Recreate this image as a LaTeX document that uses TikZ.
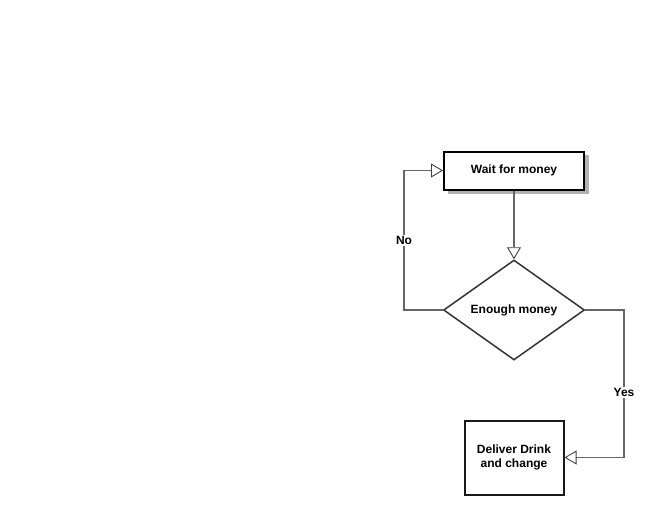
\documentclass[tikz,border=0pt]{standalone}
\usepackage{fontspec}
\setmainfont{Liberation Sans}
\usetikzlibrary{shapes.geometric,arrows.meta,shadows}
\begin{document}
\begin{tikzpicture}[x=1pt,y=-1pt,
  every node/.style={font=\fontsize{12}{14}\selectfont\bfseries, inner sep=0pt},
  proc/.style={draw=black, line width=2pt, minimum width=140pt, minimum height=38pt, fill=white},
  procb/.style={draw=black!90, line width=2pt, minimum width=99pt, minimum height=74pt, align=center, fill=white},
  deci/.style={draw=black!80, line width=1.5pt, diamond, aspect=1.41, minimum width=141pt, minimum height=100pt},
  conn/.style={draw=black!60, line width=1.2pt, -{Triangle[open, length=12pt, width=14pt, color=black!75, line width=0.9pt]}},
  lab/.style={fill=white, inner sep=1.5pt, font=\fontsize{12}{14}\selectfont\bfseries}
]
\useasboundingbox (0,0) rectangle (654,515);
\fill[black!30] (448,155) rectangle (589,194);
\node[proc] (wait) at (514,170.5) {Wait for money};
\node[deci] (dec) at (514,310) {Enough money};
\node[procb] (deliv) at (514,457.5) {Deliver Drink\\and change};
\coordinate (nl) at (404,310);
\coordinate (yr) at (624,310);
\draw[conn] (wait.south) -- (dec.north);
\draw[conn] (dec.west) -- (nl) -- node[lab, pos=0.5] {No} (nl |- wait.west) -- (wait.west);
\draw[conn] (dec.east) -- (yr) -- node[lab, pos=0.56] {Yes} (yr |- deliv.east) -- (deliv.east);
\end{tikzpicture}
\end{document}
